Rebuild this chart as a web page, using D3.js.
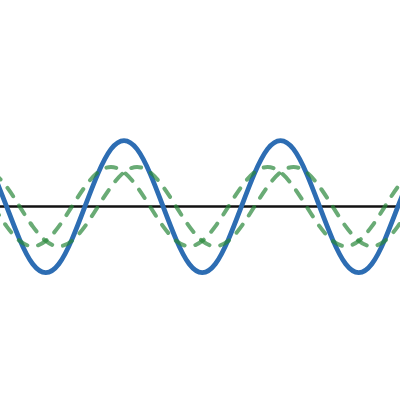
<!DOCTYPE html>
<meta charset="utf-8">
<style>
  body { margin: 0; background: #fff; }
</style>
<svg width="400" height="400"></svg>
<script src="https://d3js.org/d3.v7.min.js"></script>
<script>

// phase in degrees, every 30 deg
var phase = [-210, -180, -150, -120, -90, -60, -30, 0, 30, 60, 90, 120, 150, 180, 210, 240, 270,
             300, 330, 360, 390, 420, 450, 480, 510, 540, 570, 600, 630, 660, 690, 720, 750];

// solid blue wave
var wave = [0.5, 0, -0.5, -0.87, -1, -0.87, -0.5, 0, 0.5, 0.87, 1, 0.87, 0.5, 0, -0.5, -0.87, -1,
            -0.87, -0.5, 0, 0.5, 0.87, 1, 0.87, 0.5, 0, -0.5, -0.87, -1, -0.87, -0.5, 0, 0.5];

// dashed green, lagging
var lagWave = [0.52, 0.3, 0, -0.3, -0.52, -0.6, -0.52, -0.3, 0, 0.3, 0.52, 0.6, 0.52, 0.3, 0, -0.3, -0.52,
               -0.6, -0.52, -0.3, 0, 0.3, 0.52, 0.6, 0.52, 0.3, 0, -0.3, -0.52, -0.6, -0.52, -0.3, 0];

// dashed green, leading
var leadWave = [0, -0.3, -0.52, -0.6, -0.52, -0.3, 0, 0.3, 0.52, 0.6, 0.52, 0.3, 0, -0.3, -0.52, -0.6, -0.52,
                -0.3, 0, 0.3, 0.52, 0.6, 0.52, 0.3, 0, -0.3, -0.52, -0.6, -0.52, -0.3, 0, 0.3, 0.52];

var svg = d3.select("svg"),
    width = +svg.attr("width"),
    height = +svg.attr("height");

var x = d3.scaleLinear().domain([-195.3, 724.9]).range([0, width]);
var y = d3.scaleLinear().domain([-2.93, 3.13]).range([height, 0]);

function pts(vals) {
  return phase.map(function(p, i) { return [p, vals[i]]; });
}

var line = d3.line()
    .x(function(d) { return x(d[0]); })
    .y(function(d) { return y(d[1]); })
    .curve(d3.curveNatural);

// zero line
svg.append("line")
    .attr("x1", 0).attr("x2", width)
    .attr("y1", y(0)).attr("y2", y(0))
    .attr("stroke", "#111")
    .attr("stroke-width", 2.5);

svg.append("path")
    .datum(pts(wave))
    .attr("d", line)
    .attr("fill", "none")
    .attr("stroke", "#2d6db3")
    .attr("stroke-width", 4.8);

svg.selectAll(".green")
    .data([pts(lagWave), pts(leadWave)])
  .enter().append("path")
    .attr("class", "green")
    .attr("d", line)
    .attr("fill", "none")
    .attr("stroke", "#29883b")
    .attr("stroke-opacity", 0.7)
    .attr("stroke-width", 4)
    .attr("stroke-linecap", "round")
    .attr("stroke-dasharray", "10,11");

</script>
